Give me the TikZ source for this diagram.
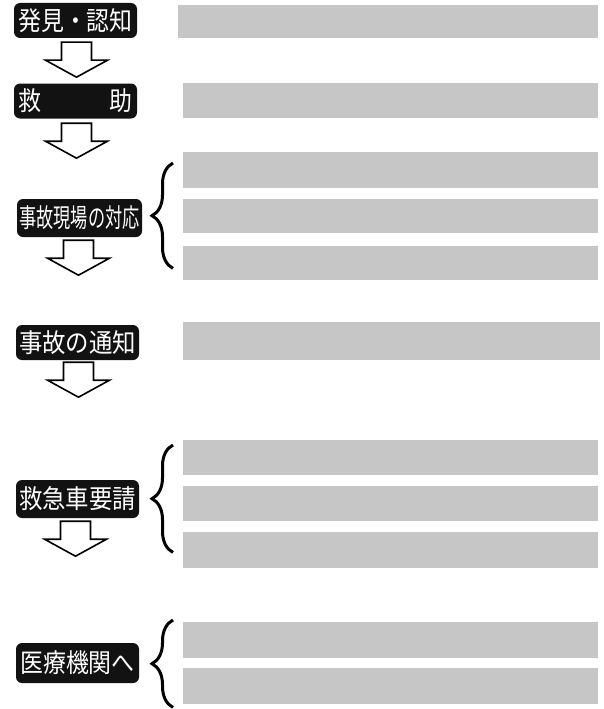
\documentclass[tikz,border=0pt]{standalone}
\usepackage{fontspec}
\usepackage{tikz}
\usetikzlibrary{positioning,decorations.pathreplacing}
\newfontfamily\jpfont{Noto Sans CJK JP}
\definecolor{stepblack}{RGB}{18,18,18}
\definecolor{dotgray}{RGB}{198,198,198}
\newcommand{\narrow}[2]{\scalebox{#1}[1]{#2}}

\begin{document}
\begin{tikzpicture}[
  x=1pt, y=-1pt,
  stage/.style={fill=stepblack, text=white, rounded corners=6pt, inner sep=0pt, minimum width=123pt, minimum height=35pt, font=\jpfont\fontsize{26}{28}\selectfont},
  bar/.style={fill=dotgray, anchor=north west, inner sep=0pt, minimum width=415pt, minimum height=35pt},
  brc/.style={decorate, decoration={brace, amplitude=21pt}, line width=3pt},
  pics/flowdown/.style={code={
    \draw[line width=1.6pt, fill=white, line join=miter] (-15,0) -- (15,0) -- (15,18) -- (31,18) -- (0,35) -- (-31,18) -- (-15,18) -- cycle;}}
]
\useasboundingbox (0,0) rectangle (603,709);

% steps on the left
\node[stage] (find) at (75.5,20.5) {\narrow{0.88}{発見・認知}};
\node[stage] (rescue) at (75.5,101) {\narrow{0.88}{救　　　助}};
\node[stage, minimum width=125pt, minimum height=38pt] (scene) at (79.5,218) {\narrow{0.66}{事故現場の対応}};
\node[stage] (notify) at (77.5,342.5) {\narrow{0.9}{事故の通知}};
\node[stage, minimum height=38pt] (call) at (77.5,499) {\narrow{0.9}{救急車要請}};
\node[stage, minimum height=40pt] (hosp) at (77.5,663) {\narrow{0.88}{医療機関へ}};

% hollow arrows
\pic at ([xshift=1pt,yshift=-4pt]find.south) {flowdown};
\pic at ([xshift=1pt,yshift=-4.5pt]rescue.south) {flowdown};
\pic at ([xshift=-1pt,yshift=-3pt]scene.south) {flowdown};
\pic at ([xshift=1pt,yshift=-2pt]notify.south) {flowdown};
\pic at ([xshift=-2pt,yshift=-3pt]call.south) {flowdown};

% screened text bars
\node[bar, minimum width=420pt, minimum height=33pt] (findtxt) at (178,5) {};
\node[bar] (rescuetxt) at (183,83) {};
\node[bar, minimum height=36pt] (scenetxta) at (183,152) {};
\node[bar, minimum height=34pt] (scenetxtb) at (183,199) {};
\node[bar, minimum height=34pt] (scenetxtc) at (183,246) {};
\node[bar, minimum width=417pt, minimum height=38pt] (notifytxt) at (183,322) {};
\node[bar] (calltxta) at (183,440) {};
\node[bar] (calltxtb) at (183,486) {};
\node[bar, minimum height=36pt] (calltxtc) at (183,532) {};
\node[bar, minimum height=36pt] (hosptxta) at (183,622) {};
\node[bar, minimum height=36pt] (hosptxtb) at (183,668) {};

% braces
\draw[brc] ([xshift=-10pt,yshift=12pt]scenetxtc.south west) -- ([xshift=-10pt,yshift=-11pt]scenetxta.north west);
\draw[brc] ([xshift=-10pt,yshift=16pt]calltxtc.south west) -- ([xshift=-10pt,yshift=-5pt]calltxta.north west);
\draw[brc] ([xshift=-10pt,yshift=-3pt]hosptxtb.south west) -- ([xshift=-10pt,yshift=2pt]hosptxta.north west);
\end{tikzpicture}
\end{document}
